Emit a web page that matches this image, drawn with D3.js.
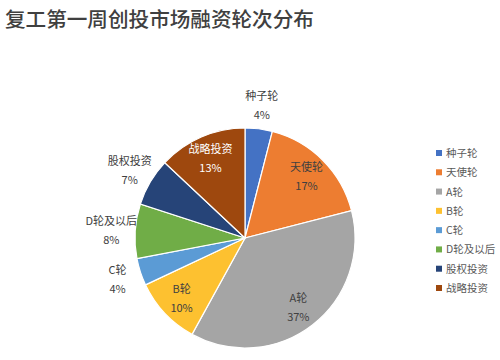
<!DOCTYPE html>
<html>
<head>
<meta charset="utf-8">
<script src="https://cdn.jsdelivr.net/npm/d3@7"></script>
<style>
  body { margin: 0; background: #fff; }
  text { font-family: "Noto Sans CJK SC", "Noto Sans", sans-serif; }
</style>
</head>
<body>
<div id="chart"></div>
<script>
const width = 500;
const height = 360;

const rounds = ['种子轮', '天使轮', 'A轮', 'B轮', 'C轮', 'D轮及以后', '股权投资', '战略投资'];
const shares = [4, 17, 37, 10, 4, 8, 7, 13];
const colors = ['#4472C4', '#ED7D31', '#A5A5A5', '#FDC130', '#5B9BD5', '#70AD47', '#264478', '#9E480E'];
// which labels sit outside the pie
const outside = [true, false, false, false, true, true, true, false];

const cx = 245, cy = 238, r = 110;

const svg = d3.select('#chart')
  .append('svg')
  .attr('width', width)
  .attr('height', height);

svg.append('text')
  .attr('x', 5)
  .attr('y', 27)
  .attr('font-size', 20.6)
  .attr('font-weight', 500)
  .attr('fill', '#404040')
  .text('复工第一周创投市场融资轮次分布');

const data = rounds.map((name, i) => ({ name, value: shares[i], color: colors[i], out: outside[i] }));

const pie = d3.pie().sort(null).value(d => d.value);
const arc = d3.arc().innerRadius(0).outerRadius(r);
const inArc = d3.arc().innerRadius(87).outerRadius(87);
const outArc = d3.arc().innerRadius(134).outerRadius(134);

const g = svg.append('g').attr('transform', `translate(${cx},${cy})`);

const arcs = pie(data);

g.selectAll('path')
  .data(arcs)
  .join('path')
    .attr('d', arc)
    .attr('fill', d => d.data.color)
    .attr('stroke', '#fff')
    .attr('stroke-width', 1.2);

const labels = g.selectAll('g.lbl')
  .data(arcs)
  .join('g')
    .attr('class', 'lbl')
    .attr('transform', d => `translate(${(d.data.out ? outArc : inArc).centroid(d)})`);

labels.append('text')
  .attr('text-anchor', 'middle')
  .attr('y', -5)
  .attr('font-size', 11)
  .attr('fill', d => d.data.name === '战略投资' ? '#fff' : '#404040')
  .text(d => d.data.name);

labels.append('text')
  .attr('text-anchor', 'middle')
  .attr('y', 14)
  .attr('font-size', 11)
  .attr('fill', d => d.data.name === '战略投资' ? '#fff' : '#404040')
  .text(d => d.data.value + '%');

const legend = svg.append('g').attr('transform', 'translate(436,153)');
const ly = d3.scalePoint().domain(rounds).range([0, 135]);

const items = legend.selectAll('g')
  .data(data)
  .join('g')
    .attr('transform', d => `translate(0,${ly(d.name)})`);

items.append('rect')
  .attr('x', 0)
  .attr('y', -3)
  .attr('width', 6)
  .attr('height', 6)
  .attr('fill', d => d.color);

items.append('text')
  .attr('x', 10)
  .attr('y', 4)
  .attr('font-size', 10.5)
  .attr('fill', '#595959')
  .text(d => d.name);
</script>
</body>
</html>
